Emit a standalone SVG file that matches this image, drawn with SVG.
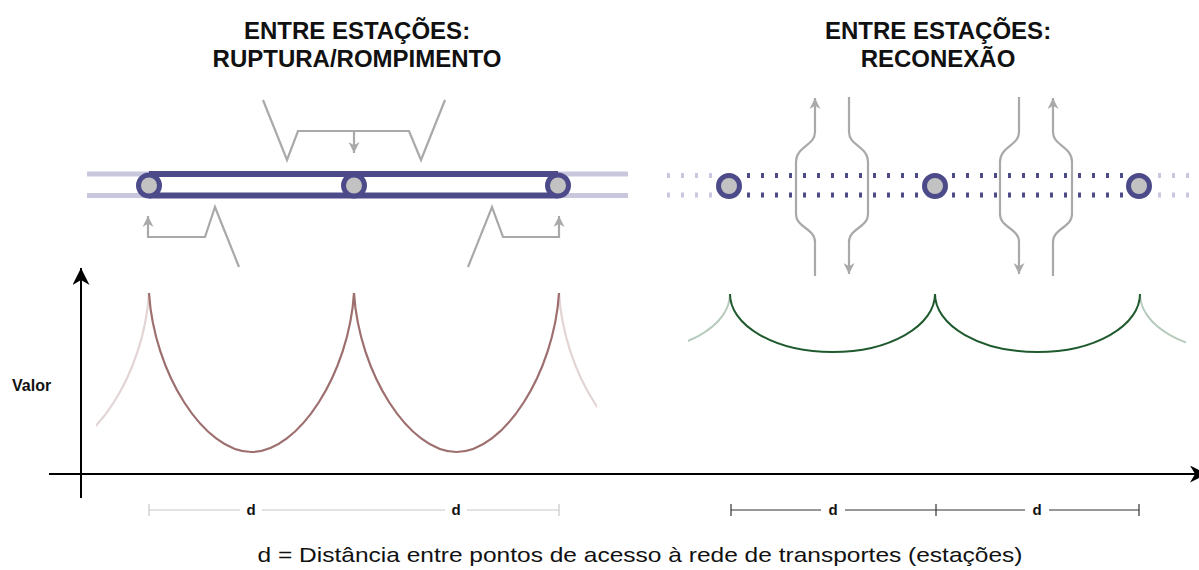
<svg xmlns="http://www.w3.org/2000/svg" width="1199" height="570" viewBox="0 0 1199 570">
<style>
.title{font-family:"Liberation Sans",Arial,sans-serif;font-weight:bold;font-size:24px;fill:#111;text-anchor:middle}
.lbl{font-family:"Liberation Sans",Arial,sans-serif;font-weight:bold;font-size:15px;fill:#111;text-anchor:middle}
.cap{font-family:"Liberation Sans",Arial,sans-serif;font-size:21px;fill:#111;text-anchor:middle}
.flow{fill:none;stroke:#a9a9a9;stroke-width:2.2}
.st{fill:#c2c2c2;stroke:#4d4a8a;stroke-width:5}
.band{stroke:#4d4a8a;stroke-width:6}
.lite{stroke:#c9c7dd;stroke-width:5}
.dots{stroke:#4d4a8a;stroke-width:5;stroke-dasharray:3 11}
.ldots{stroke:#c9c7dd;stroke-width:5;stroke-dasharray:3 11}
.axis{stroke:#000;stroke-width:2;fill:none}
</style>
<defs>
<marker id="ga" viewBox="0 0 10 10" refX="10" refY="5" markerUnits="userSpaceOnUse" markerWidth="13" markerHeight="11" orient="auto">
<path d="M0,0 L10,5 L0,10 L3,5 Z" fill="#a9a9a9"/>
</marker>
<marker id="ax" viewBox="0 0 10 10" refX="10" refY="5" markerUnits="userSpaceOnUse" markerWidth="20" markerHeight="17" orient="auto">
<path d="M0,0 L10,5 L0,10 L3,5 Z" fill="#000"/>
</marker>
<clipPath id="cl1"><rect x="96" y="280" width="53" height="200"/></clipPath>
<clipPath id="cl2"><rect x="559" y="280" width="38" height="200"/></clipPath>
<clipPath id="cl3"><rect x="688" y="280" width="42" height="100"/></clipPath>
<clipPath id="cl4"><rect x="1140" y="280" width="46" height="100"/></clipPath>
</defs>

<g id="titles">
<text class="title" x="357" y="39">ENTRE ESTAÇÕES:</text>
<text class="title" x="357" y="67">RUPTURA/ROMPIMENTO</text>
<text class="title" x="938" y="39">ENTRE ESTAÇÕES:</text>
<text class="title" x="938" y="67">RECONEXÃO</text>
</g>

<g id="line-left">
<line class="lite" x1="87" y1="174" x2="628" y2="174"/>
<line class="lite" x1="87" y1="195.5" x2="628" y2="195.5"/>
<line class="band" x1="149" y1="174" x2="558" y2="174"/>
<line class="band" x1="149" y1="195.5" x2="558" y2="195.5"/>
</g>

<g id="line-right">
<line class="ldots" x1="667" y1="175.5" x2="712" y2="175.5"/>
<line class="ldots" x1="667" y1="195" x2="712" y2="195"/>
<line class="dots" x1="747" y1="175.5" x2="918" y2="175.5"/>
<line class="dots" x1="747" y1="195" x2="918" y2="195"/>
<line class="dots" x1="952" y1="175.5" x2="1123" y2="175.5"/>
<line class="dots" x1="952" y1="195" x2="1123" y2="195"/>
<line class="ldots" x1="1158" y1="175.5" x2="1199" y2="175.5"/>
<line class="ldots" x1="1158" y1="195" x2="1199" y2="195"/>
</g>

<g id="connectors">
<path class="flow" d="M263,100 L287,160 L298,131 L409,131 L421,160 L445,100"/>
<path class="flow" d="M354,131 L354,153" marker-end="url(#ga)"/>
<path class="flow" d="M239,267 L215,207 L205,237 L148,237 L148,216" marker-end="url(#ga)"/>
<path class="flow" d="M468,267 L492,207 L503,237 L559,237 L559,216" marker-end="url(#ga)"/>
<path class="flow" d="M815,276 L815,242 C815,228 796,228 796,214 L796,162 C796,146 815,146 815,132 L815,98" marker-end="url(#ga)"/>
<path class="flow" d="M849,97 L849,132 C849,146 868,146 868,162 L868,214 C868,228 849,228 849,242 L849,274" marker-end="url(#ga)"/>
<path class="flow" d="M1019,97 L1019,132 C1019,146 1000,146 1000,162 L1000,214 C1000,228 1019,228 1019,242 L1019,274" marker-end="url(#ga)"/>
<path class="flow" d="M1053,276 L1053,242 C1053,228 1072,228 1072,214 L1072,162 C1072,146 1053,146 1053,132 L1053,98" marker-end="url(#ga)"/>
</g>

<g id="stations-left">
<circle class="st" cx="149" cy="185.5" r="10.5"/>
<circle class="st" cx="354" cy="185.5" r="10.5"/>
<circle class="st" cx="558" cy="185.5" r="10.5"/>
</g>
<g id="stations-right">
<circle class="st" cx="729" cy="186" r="10.5"/>
<circle class="st" cx="935" cy="186" r="10.5"/>
<circle class="st" cx="1139" cy="186" r="10.5"/>
</g>

<g id="axes">
<line class="axis" x1="81" y1="498" x2="81" y2="268" marker-end="url(#ax)"/>
<line class="axis" x1="49" y1="474" x2="1207" y2="474" marker-end="url(#ax)"/>
<text x="12" y="391" font-family="Liberation Sans, Arial, sans-serif" font-weight="bold" font-size="16" fill="#111">Valor</text>
</g>

<g id="curve-rupture">
<path d="M-56,293 c5,80 55,159 102.5,159 s97.5,-79 102.5,-159" fill="none" stroke="#e3d5d5" stroke-width="2.2" clip-path="url(#cl1)"/>
<path d="M559,293 c5,80 55,159 102.5,159 s97.5,-79 102.5,-159" fill="none" stroke="#e3d5d5" stroke-width="2.2" clip-path="url(#cl2)"/>
<path d="M149,293 c5,80 55,159 102.5,159 s97.5,-79 102.5,-159 c5,80 55,159 102.5,159 s97.5,-79 102.5,-159" fill="none" stroke="#9e6f6f" stroke-width="2.2"/>
</g>

<g id="curve-reconnect">
<path d="M525,294 A102.5,58 0 0 0 730,294" fill="none" stroke="#b7cbbd" stroke-width="2" clip-path="url(#cl3)"/>
<path d="M1140,294 A102.5,58 0 0 0 1345,294" fill="none" stroke="#b7cbbd" stroke-width="2" clip-path="url(#cl4)"/>
<path d="M730,294 A102.5,58 0 0 0 935,294 A102.5,58 0 0 0 1140,294" fill="none" stroke="#1f5a2e" stroke-width="2"/>
</g>

<g id="dimensions">
<g stroke="#c8c8c8" stroke-width="1.2">
<line x1="149" y1="504" x2="149" y2="516"/>
<line x1="559" y1="504" x2="559" y2="516"/>
<line x1="149" y1="510" x2="240" y2="510"/>
<line x1="262" y1="510" x2="445" y2="510"/>
<line x1="467" y1="510" x2="559" y2="510"/>
</g>
<g stroke="#333" stroke-width="1.2">
<line x1="731" y1="504" x2="731" y2="516"/>
<line x1="936" y1="504" x2="936" y2="516"/>
<line x1="1139" y1="504" x2="1139" y2="516"/>
<line x1="731" y1="510" x2="821" y2="510"/>
<line x1="845" y1="510" x2="1025" y2="510"/>
<line x1="1049" y1="510" x2="1139" y2="510"/>
</g>
<text class="lbl" x="251" y="515">d</text>
<text class="lbl" x="456" y="515">d</text>
<text class="lbl" x="833" y="515">d</text>
<text class="lbl" x="1037" y="515">d</text>
</g>

<g id="caption">
<text class="cap" x="640" y="562" textLength="765" lengthAdjust="spacingAndGlyphs">d = Distância entre pontos de acesso à rede de transportes (estações)</text>
</g>
</svg>
